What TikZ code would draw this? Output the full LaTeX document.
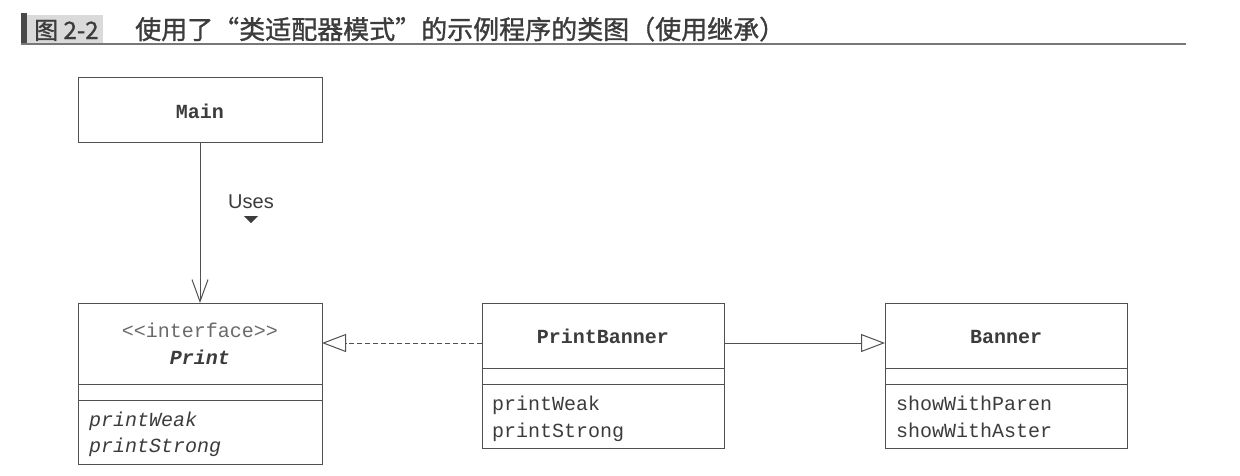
\documentclass[tikz,border=0pt]{standalone}
\usepackage{fontspec}
\setmainfont{Liberation Sans}
\newfontfamily\cjk[FakeBold=1.2]{Noto Sans CJK SC}
\newfontfamily\cmono{Liberation Mono}
\usetikzlibrary{arrows.meta}
\definecolor{ink}{HTML}{3C3C3C}
\definecolor{edge}{HTML}{505050}
\definecolor{soft}{HTML}{6A6A6A}
\definecolor{tagbg}{HTML}{DADADA}
\definecolor{tagbar}{HTML}{4A4A4A}
\definecolor{rule}{HTML}{777777}
\tikzset{
  compart/.style={draw=edge, line width=1pt, inner sep=0pt, outer sep=0pt, anchor=north west, minimum width=244pt},
  mono/.style={inner sep=0pt, outer sep=0pt, text=ink, font=\cmono\fontsize{20}{24}\selectfont},
  conn/.style={draw=edge, line width=1pt},
  opentri/.style={-{Triangle[open, length=24pt, width=18pt, fill=white]}},
  openbarb/.style={-{Straight Barb[length=22pt, width=16pt]}},
  titletxt/.style={anchor=base west, inner sep=0pt, text=ink},
}
\begin{document}
\begin{tikzpicture}[x=1pt, y=-1pt]
\useasboundingbox (0,0) rectangle (1240,475);
% title bar
\fill[tagbar] (21,13) rectangle (27,45);
\fill[tagbg] (27,15) rectangle (103,43);
\draw[rule, line width=2pt] (21,44) -- (1186,44);
\node[titletxt, font=\cjk\fontsize{24}{28}\selectfont] (fignum) at (34,39) {图 2-2};
\node[titletxt, font=\cjk\fontsize{26}{30}\selectfont] (figtitle) at (135,39) {使用了“类适配器模式”的示例程序的类图（使用继承）};

% Main
\node[compart, minimum height=65pt] (main) at (78,77) {};
\node[mono, anchor=base, font=\cmono\bfseries\fontsize{20}{24}\selectfont] (maintxt) at (200,118) {Main};

% Print
\node[compart, minimum height=81pt] (printhead) at (78,303) {};
\node[compart, minimum height=16pt] (printmid) at (78,384) {};
\node[compart, minimum height=64pt] (printbody) at (78,400) {};
\node[mono, anchor=base, text=soft] (iface) at (200,337) {<{}<interface>{}>};
\node[mono, anchor=base, font=\cmono\bfseries\itshape\fontsize{20}{24}\selectfont] (printname) at (200,364) {Print};
\node[mono, anchor=base west, font=\cmono\itshape\fontsize{20}{24}\selectfont] (pw1) at (89,426) {printWeak};
\node[mono, anchor=base west, font=\cmono\itshape\fontsize{20}{24}\selectfont] (ps1) at (89,452) {printStrong};

% PrintBanner
\node[compart, minimum width=242pt, minimum height=65pt] (pbhead) at (482,303) {};
\node[compart, minimum width=242pt, minimum height=16pt] (pbmid) at (482,368) {};
\node[compart, minimum width=242pt, minimum height=64pt] (pbbody) at (482,384) {};
\node[mono, anchor=base, font=\cmono\bfseries\fontsize{20}{24}\selectfont] (pbname) at (603,343) {PrintBanner};
\node[mono, anchor=base west] (pw2) at (492,410) {printWeak};
\node[mono, anchor=base west] (ps2) at (492,437) {printStrong};

% Banner
\node[compart, minimum width=242pt, minimum height=65pt] (bhead) at (885,303) {};
\node[compart, minimum width=242pt, minimum height=16pt] (bmid) at (885,368) {};
\node[compart, minimum width=242pt, minimum height=64pt] (bbody) at (885,384) {};
\node[mono, anchor=base, font=\cmono\bfseries\fontsize{20}{24}\selectfont] (bname) at (1006,343) {Banner};
\node[mono, anchor=base west] (sp) at (896,410) {showWithParen};
\node[mono, anchor=base west] (sa) at (896,437) {showWithAster};

% connectors
\draw[conn, openbarb] (main) -- (printhead);
\node[anchor=base, inner sep=0pt, text=ink, font=\fontsize{20}{24}\selectfont] (uses) at (251,208) {Uses};
\fill[ink] (244,216) -- (258,216) -- (251,223) -- cycle;
\draw[conn, opentri, dash pattern=on 5pt off 3pt] ([yshift=-7.5pt]pbhead.west) -- ([yshift=-7.5pt]pbhead.west -| printhead.east);
\draw[conn, opentri] ([yshift=-7.5pt]pbhead.east) -- ([yshift=-7.5pt]pbhead.east -| bhead.west);
\end{tikzpicture}
\end{document}
